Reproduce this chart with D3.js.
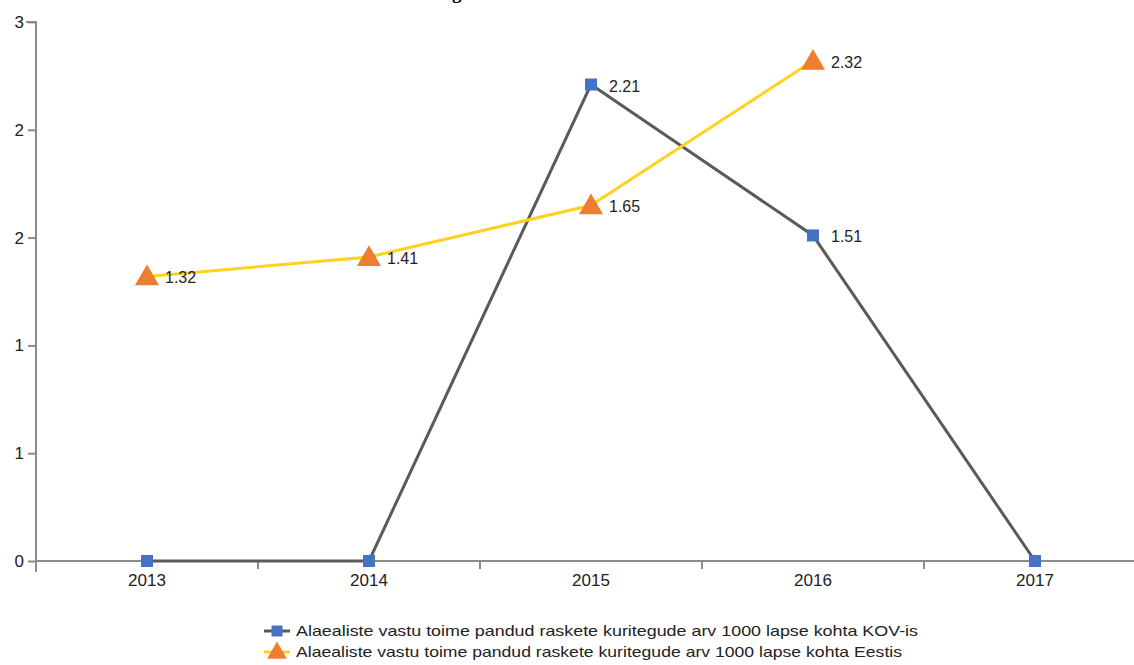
<!DOCTYPE html>
<html>
<head>
<meta charset="utf-8">
<script src="https://cdn.jsdelivr.net/npm/d3@7"></script>
<style>
  body { margin: 0; background: #fff; }
  svg { display: block; }
  .tick text { font-family: 'Liberation Sans', Arial, sans-serif; font-size: 17px; fill: #222; }
</style>
</head>
<body>
<svg id="chart" width="1134" height="665"></svg>
<script>
// data
const years = ["2013", "2014", "2015", "2016", "2017"];
const kovValues = [0, 0, 2.21, 1.51, 0];
const eestiValues = [1.32, 1.41, 1.65, 2.32, null];
const yTicks = [0, 0.5, 1, 1.5, 2, 2.5];
const seriesNames = [
    "Alaealiste vastu toime pandud raskete kuritegude arv 1000 lapse kohta KOV-is",
    "Alaealiste vastu toime pandud raskete kuritegude arv 1000 lapse kohta Eestis"
];
const chartTitle = "Raskete kuritegude arv";

const svg = d3.select("#chart");
const font = "'Liberation Sans', Arial, sans-serif";

const x = d3.scaleBand().domain(years).range([36, 1146]).padding(0);
const y = d3.scaleLinear().domain([0, 2.5]).range([561, 22]);

// title, mostly above the visible area (only the descender shows)
const title = svg.append("text")
    .attr("x", 0)
    .attr("y", -1)
    .style("font-family", "'Liberation Serif', 'Times New Roman', serif")
    .style("font-weight", "bold")
    .style("font-size", "19px")
    .text(chartTitle);
const gIdx = chartTitle.indexOf("g");
const gPos = title.node().getStartPositionOfChar(gIdx).x;
title.attr("x", 452 - gPos);

// y axis
const yAxis = svg.append("g")
    .attr("transform", "translate(36,0)")
    .call(d3.axisLeft(y).tickValues(yTicks).tickSize(8).tickPadding(4)
        .tickFormat(d => Math.round(d)));
yAxis.select(".domain")
    .attr("d", "M-10,22H0V572")
    .attr("stroke", "#8c8c8c").attr("stroke-width", 2);

// x axis
const xAxis = svg.append("g")
    .attr("transform", "translate(0,561)")
    .call(d3.axisBottom(x).tickSize(0).tickPadding(13));
xAxis.select(".domain")
    .attr("d", "M36,0H1134")
    .attr("stroke", "#8c8c8c").attr("stroke-width", 2);
xAxis.selectAll(".boundary")
    .data(years.slice(1))
    .enter().append("line")
    .attr("x1", d => x(d)).attr("x2", d => x(d))
    .attr("y1", 0).attr("y2", 8)
    .attr("stroke", "#8c8c8c").attr("stroke-width", 2);

svg.selectAll(".tick line").attr("stroke", "#8c8c8c").attr("stroke-width", 2);

const cx = d => x(d) + x.bandwidth() / 2;

// KOV series
const kov = years.map((yr, i) => ({ yr, v: kovValues[i] }));
svg.append("path")
    .datum(kov)
    .attr("fill", "none")
    .attr("stroke", "#5a5a5a")
    .attr("stroke-width", 3)
    .attr("d", d3.line().x(d => cx(d.yr)).y(d => y(d.v)));

// Eestis series
const eesti = years.map((yr, i) => ({ yr, v: eestiValues[i] })).filter(d => d.v != null);
svg.append("path")
    .datum(eesti)
    .attr("fill", "none")
    .attr("stroke", "#ffd21f")
    .attr("stroke-width", 3)
    .attr("d", d3.line().x(d => cx(d.yr)).y(d => y(d.v)));

const square = d3.symbol().type(d3.symbolSquare).size(144);
const triangle = d3.symbol().type(d3.symbolTriangle).size(250);

svg.selectAll(".kovmark")
    .data(kov)
    .enter().append("path")
    .attr("d", square)
    .attr("transform", d => "translate(" + cx(d.yr) + "," + y(d.v) + ")")
    .attr("fill", "#4472c4");

svg.selectAll(".eestimark")
    .data(eesti)
    .enter().append("path")
    .attr("d", triangle)
    .attr("transform", d => "translate(" + cx(d.yr) + "," + (y(d.v) + 2) + ")")
    .attr("fill", "#ed7d31");

// value labels
const labelled = kov.filter(d => d.v > 0).concat(eesti);
svg.selectAll(".vlabel")
    .data(labelled)
    .enter().append("text")
    .attr("x", d => cx(d.yr) + 18)
    .attr("y", d => y(d.v) + 7)
    .style("font-family", font)
    .style("font-size", "16px")
    .attr("fill", "#222")
    .text(d => d.v.toFixed(2));

// legend
const legend = svg.append("g");
const legendY = [631, 652];
const legendLine = ["#5a5a5a", "#ffd21f"];
const legendFill = ["#4472c4", "#ed7d31"];
seriesNames.forEach((name, i) => {
    legend.append("line")
        .attr("x1", 264).attr("x2", 290)
        .attr("y1", legendY[i]).attr("y2", legendY[i])
        .attr("stroke", legendLine[i]).attr("stroke-width", 3);
    legend.append("path")
        .attr("d", i === 0 ? d3.symbol().type(d3.symbolSquare).size(120)() : d3.symbol().type(d3.symbolTriangle).size(170)())
        .attr("transform", "translate(277," + (legendY[i] + (i === 1 ? 1 : 0)) + ")")
        .attr("fill", legendFill[i]);
    legend.append("text")
        .attr("x", 296)
        .attr("y", legendY[i] + 5)
        .attr("textLength", i === 0 ? 622 : 606)
        .attr("lengthAdjust", "spacingAndGlyphs")
        .style("font-family", font)
        .style("font-size", "15px")
        .attr("fill", "#222")
        .text(name);
});
</script>
</body>
</html>
